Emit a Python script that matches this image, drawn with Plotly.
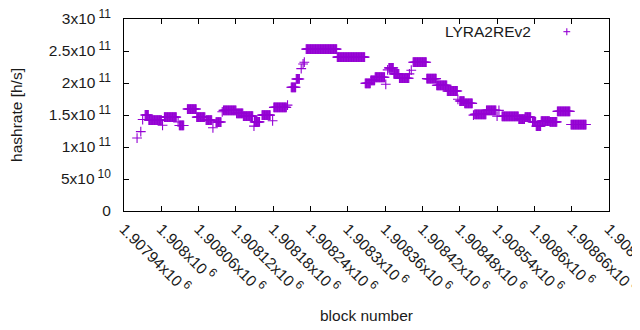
import plotly.graph_objects as go

# Runs of consecutive blocks sharing one hashrate estimate
run_start = [1907961, 1907967, 1907970, 1907974, 1907980, 1908002, 1908005, 1908027, 1908029,
             1908042, 1908057, 1908072, 1908083, 1908088, 1908098, 1908100, 1908121, 1908132,
             1908149, 1908150, 1908162, 1908179, 1908181, 1908203, 1908209, 1908217, 1908225,
             1908228, 1908230, 1908233, 1908283, 1908328, 1908337, 1908344, 1908361, 1908364,
             1908366, 1908374, 1908383, 1908399, 1908402, 1908405, 1908427, 1908443, 1908460,
             1908477, 1908480, 1908488, 1908502, 1908504, 1908523, 1908540, 1908543, 1908548,
             1908575, 1908585, 1908597, 1908603, 1908611, 1908625, 1908637, 1908659]
run_end = [1907961, 1907967, 1907970, 1907979, 1908000, 1908002, 1908024, 1908027, 1908036,
           1908056, 1908070, 1908081, 1908083, 1908096, 1908098, 1908120, 1908131, 1908147,
           1908149, 1908158, 1908175, 1908179, 1908201, 1908203, 1908216, 1908222, 1908225,
           1908228, 1908230, 1908282, 1908327, 1908336, 1908343, 1908359, 1908361, 1908364,
           1908373, 1908382, 1908398, 1908399, 1908402, 1908426, 1908442, 1908459, 1908476,
           1908477, 1908487, 1908500, 1908502, 1908522, 1908538, 1908540, 1908543, 1908574,
           1908584, 1908594, 1908602, 1908610, 1908624, 1908636, 1908657, 1908683]
run_value = [1.14e11, 1.24e11, 1.43e11, 1.50e11, 1.42e11, 1.34e11, 1.467e11, 1.39e11, 1.337e11,
             1.593e11, 1.467e11, 1.42e11, 1.30e11, 1.39e11, 1.55e11, 1.572e11, 1.525e11, 1.483e11,
             1.326e11, 1.393e11, 1.498e11, 1.409e11, 1.619e11, 1.655e11, 1.933e11, 2.063e11, 2.225e11,
             2.298e11, 2.325e11, 2.529e11, 2.404e11, 1.995e11, 2.042e11, 2.09e11, 1.98e11, 2.205e11,
             2.236e11, 2.142e11, 2.075e11, 2.142e11, 2.20e11, 2.325e11, 2.068e11, 1.964e11, 1.875e11,
             1.745e11, 1.718e11, 1.682e11, 1.498e11, 1.509e11, 1.573e11, 1.483e11, 1.573e11, 1.478e11,
             1.436e11, 1.467e11, 1.393e11, 1.326e11, 1.404e11, 1.393e11, 1.557e11, 1.351e11]

x_tick_mantissa = ["1.90794", "1.908", "1.90806", "1.90812", "1.90818", "1.90824", "1.9083",
                   "1.90836", "1.90842", "1.90848", "1.90854", "1.9086", "1.90866", "1.90872"]
x_tick_exp = "6"
x_tickvals = [1907940 + 60 * i for i in range(14)]
y_tickvals = [0, 5e10, 1e11, 1.5e11, 2e11, 2.5e11, 3e11]
y_tick_mantissa = ["0", "5", "1", "1.5", "2", "2.5", "3"]
y_tick_exp = ["", "10", "11", "11", "11", "11", "11"]


def sci(m, e):
    if not e:
        return m
    return f"{m}x10<sup> <span style='font-size:12px'>{e}</span></sup>"


x_ticktext = [sci(m, x_tick_exp) for m in x_tick_mantissa]
y_ticktext = [sci(m, e) for m, e in zip(y_tick_mantissa, y_tick_exp)]

blocks, rates = [], []
for s, e, v in zip(run_start, run_end, run_value):
    for b in range(s, e + 1):
        blocks.append(b)
        rates.append(v)

color = "#9400d3"
font = dict(family="Liberation Sans, Arial, sans-serif", size=15.5, color="#1a1a1a")

fig = go.Figure()
fig.add_trace(go.Scatter(
    x=blocks, y=rates, mode="markers", name="LYRA2REv2",
    marker=dict(symbol="cross-thin", size=7, color=color, line=dict(color=color, width=1.1)),
    showlegend=False,
))

axis_common = dict(showline=True, linecolor="black", linewidth=1, mirror="ticks",
                   ticks="inside", ticklen=5, tickcolor="black", showgrid=False,
                   zeroline=False, tickfont=font, automargin=False, ticklabeloverflow="allow")
fig.update_xaxes(range=[1907940, 1908720], tickvals=x_tickvals, ticktext=x_ticktext,
                 tickangle=45, ticklabelstandoff=2,
                 title=dict(text="block number", font=font, standoff=14),
                 **axis_common)
fig.update_yaxes(range=[0, 3e11], tickvals=y_tickvals, ticktext=y_ticktext,
                 ticklabelstandoff=9,
                 title=dict(text="hashrate [h/s]", font=font, standoff=23),
                 **axis_common)

# gnuplot-style key: text then sample marker
fig.add_annotation(xref="paper", yref="paper", x=0.843, y=0.934, text="LYRA2REv2",
                   showarrow=False, xanchor="right", yanchor="middle", font=font)
fig.add_shape(type="line", xref="paper", yref="paper", x0=0.906, x1=0.920, y0=0.934, y1=0.934,
              line=dict(color=color, width=1.1))
fig.add_shape(type="line", xref="paper", yref="paper", x0=0.913, x1=0.913, y0=0.916, y1=0.952,
              line=dict(color=color, width=1.1))

# the page adds an 8px body margin, so margins are offset to land the frame where the reference has it
fig.update_layout(width=640, height=330, margin=dict(l=116, r=39, t=11, b=127),
                  plot_bgcolor="white", paper_bgcolor="white", font=font)
fig.write_html("out.html")
